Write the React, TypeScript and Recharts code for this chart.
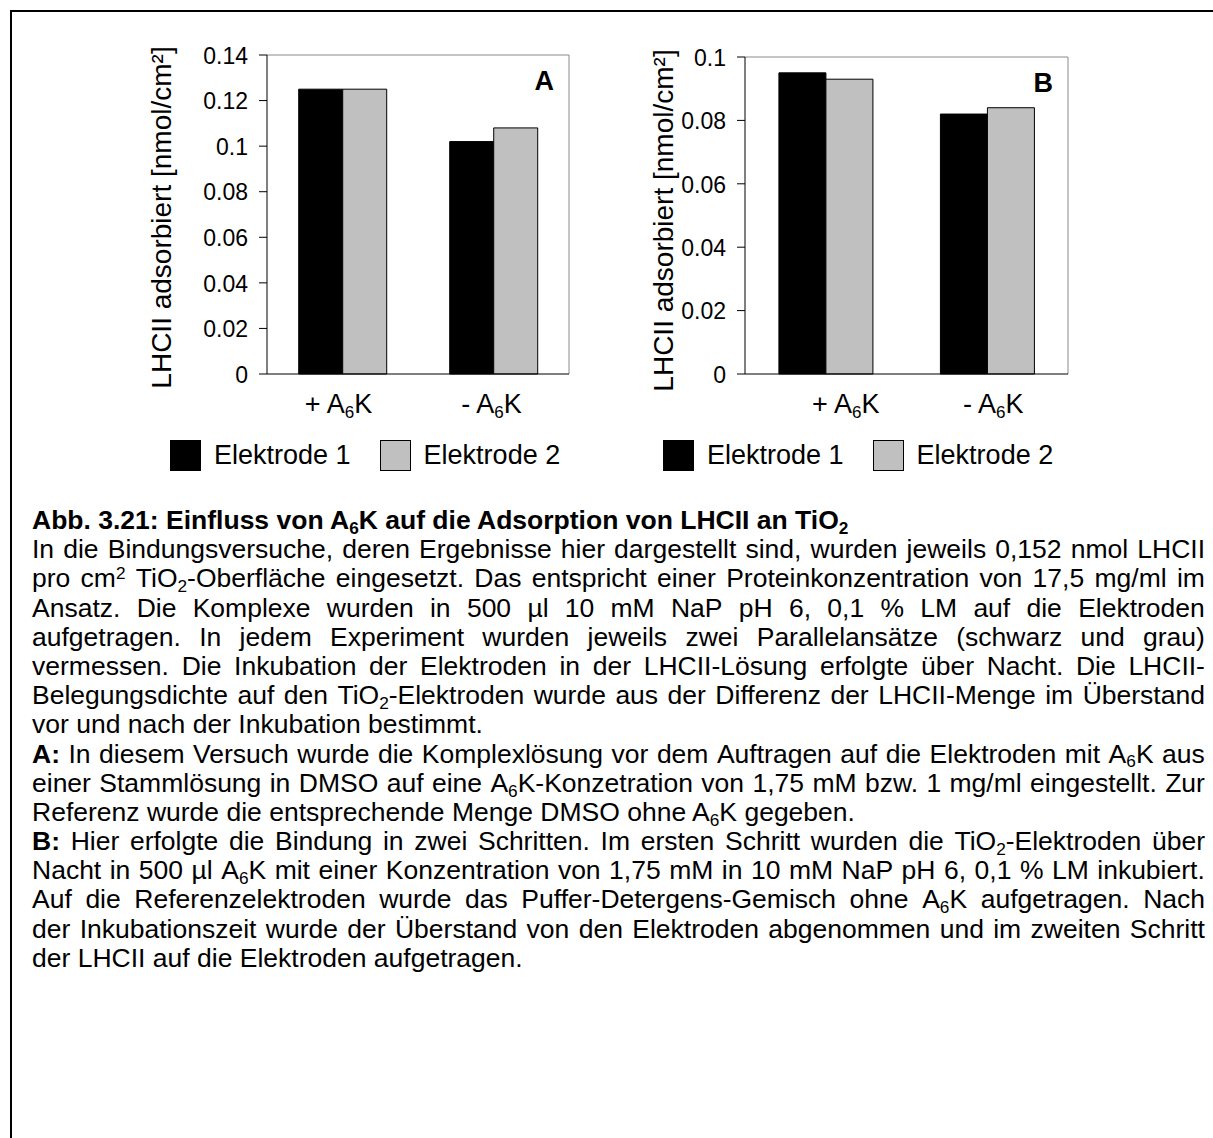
import React from 'react';
import { BarChart, Bar, XAxis, YAxis, ReferenceArea, Legend } from 'recharts';

// ---- data ----
const categories = ['+ A6K', '- A6K'];
const seriesNames = ['Elektrode 1', 'Elektrode 2'];
const seriesColors = ['#000000', '#c0c0c0'];

const electrode1A = [0.125, 0.102];
const electrode2A = [0.125, 0.108];
const electrode1B = [0.095, 0.082];
const electrode2B = [0.093, 0.084];

const ticksA = [0, 0.02, 0.04, 0.06, 0.08, 0.1, 0.12, 0.14];
const ticksB = [0, 0.02, 0.04, 0.06, 0.08, 0.1];
const edgeTicks = [0, 1, 2];

const yTitle = 'LHCII adsorbiert [nmol/cm²]';

type CaptionLine = { t: string; j: boolean; b?: boolean };
const captionLines: CaptionLine[] = [
  { t: 'Abb. 3.21: Einfluss von A_{6}K auf die Adsorption von LHCII an TiO_{2}', j: false, b: true },
  { t: 'In die Bindungsversuche, deren Ergebnisse hier dargestellt sind, wurden jeweils 0,152 nmol LHCII', j: true },
  { t: 'pro cm^{2} TiO_{2}-Oberfläche eingesetzt. Das entspricht einer Proteinkonzentration von 17,5 mg/ml im', j: true },
  { t: 'Ansatz. Die Komplexe wurden in 500 µl 10 mM NaP pH 6, 0,1 % LM auf die Elektroden', j: true },
  { t: 'aufgetragen. In jedem Experiment wurden jeweils zwei Parallelansätze (schwarz und grau)', j: true },
  { t: 'vermessen. Die Inkubation der Elektroden in der LHCII-Lösung erfolgte über Nacht. Die LHCII-', j: true },
  { t: 'Belegungsdichte auf den TiO_{2}-Elektroden wurde aus der Differenz der LHCII-Menge im Überstand', j: true },
  { t: 'vor und nach der Inkubation bestimmt.', j: false },
  { t: '**A:** In diesem Versuch wurde die Komplexlösung vor dem Auftragen auf die Elektroden mit A_{6}K aus', j: true },
  { t: 'einer Stammlösung in DMSO auf eine A_{6}K-Konzetration von 1,75 mM bzw. 1 mg/ml eingestellt. Zur', j: true },
  { t: 'Referenz wurde die entsprechende Menge DMSO ohne A_{6}K gegeben.', j: false },
  { t: '**B:** Hier erfolgte die Bindung in zwei Schritten. Im ersten Schritt wurden die TiO_{2}-Elektroden über', j: true },
  { t: 'Nacht in 500 µl A_{6}K mit einer Konzentration von 1,75 mM in 10 mM NaP pH 6, 0,1 % LM inkubiert.', j: true },
  { t: 'Auf die Referenzelektroden wurde das Puffer-Detergens-Gemisch ohne A_{6}K aufgetragen. Nach', j: true },
  { t: 'der Inkubationszeit wurde der Überstand von den Elektroden abgenommen und im zweiten Schritt', j: true },
  { t: 'der LHCII auf die Elektroden aufgetragen.', j: false },
];

// ---- styling ----
const FONT = "'Liberation Sans', Arial, Helvetica, sans-serif";

const buildTable = (e1: number[], e2: number[]) =>
  categories.map((cat, i) => ({ cat, e1: e1[i], e2: e2[i] }));

// y tick labels
const YTick = (p: any) => (
  <text x={p.x} y={p.y} dy="0.38em" textAnchor="end" fontSize={23} fontFamily={FONT} fill="#000">
    {String(p.payload.value)}
  </text>
);

// category labels with subscript digit (A6K -> A₆K)
const XTick = (p: any) => {
  const shift = (p.shifts && p.shifts[p.index]) || 0;
  const m = /^(.*A)(\d)(.*)$/.exec(String(p.payload.value));
  const x = p.x + shift;
  const y = p.y + 39;
  if (!m) {
    return (
      <text x={x} y={y} textAnchor="middle" fontSize={27} fontFamily={FONT} fill="#000">
        {p.payload.value}
      </text>
    );
  }
  return (
    <text x={x} y={y} textAnchor="middle" fontSize={27} fontFamily={FONT} fill="#000">
      <tspan>{m[1]}</tspan>
      <tspan fontSize={17} dy={5}>{m[2]}</tspan>
      <tspan dy={-5}>{m[3]}</tspan>
    </text>
  );
};

// top and right border of the plot area
const FrameShape = (p: any) => (
  <path
    d={`M${p.x},${p.y}H${p.x + p.width}V${p.y + p.height}`}
    stroke="#8a8a8a"
    strokeWidth={1}
    fill="none"
  />
);

type PanelProps = {
  left: number;
  top: number;
  width: number;
  height: number;
  marginTop: number;
  yAxisWidth: number;
  yMax: number;
  ticks: number[];
  e1: number[];
  e2: number[];
  letter: string;
  titleX: number;
  titleDy: number;
  xShifts: number[];
  legendPad: number;
};

const LegendBox = ({ pad }: { pad: number }) => (
  <div
    style={{
      display: 'flex',
      alignItems: 'center',
      height: 40,
      paddingLeft: pad,
      fontFamily: FONT,
      fontSize: 27,
      color: '#000',
      whiteSpace: 'nowrap',
    }}
  >
    {seriesNames.map((name, i) => (
      <div key={name} style={{ display: 'flex', alignItems: 'center', marginRight: 29 }}>
        <div
          style={{
            width: 31,
            height: 31,
            boxSizing: 'border-box',
            background: seriesColors[i],
            border: '1.5px solid #000',
            marginRight: 13,
          }}
        />
        <span>{name}</span>
      </div>
    ))}
  </div>
);

const Panel = (props: PanelProps) => {
  const data = buildTable(props.e1, props.e2);
  return (
    <div style={{ position: 'absolute', left: props.left, top: props.top }}>
      <BarChart
        width={props.width}
        height={props.height}
        data={data}
        margin={{ top: props.marginTop, right: 11, left: 0, bottom: 0 }}
        barGap={0}
        barCategoryGap="21%"
      >
        <XAxis
          xAxisId="edges"
          type="number"
          domain={[0, 2]}
          ticks={edgeTicks}
          interval={0}
          height={0}
          axisLine={false}
          tick={false}
          tickSize={8}
          tickLine={{ stroke: '#000', strokeWidth: 1 }}
        />
        <XAxis
          xAxisId="cat"
          dataKey="cat"
          type="category"
          height={61}
          interval={0}
          tickSize={0}
          tickMargin={0}
          tickLine={false}
          axisLine={{ stroke: '#000', strokeWidth: 1 }}
          tick={(tp: any) => <XTick {...tp} shifts={props.xShifts} />}
        />
        <YAxis
          type="number"
          domain={[0, props.yMax]}
          ticks={props.ticks}
          interval={0}
          width={props.yAxisWidth}
          tickSize={8}
          tickMargin={11}
          axisLine={{ stroke: '#000', strokeWidth: 1 }}
          tickLine={{ stroke: '#000', strokeWidth: 1 }}
          tick={YTick}
          label={(lp: any) => {
            const vb = lp.viewBox || {};
            const cx = vb.x + props.titleX;
            const cy = vb.y + vb.height / 2 + props.titleDy;
            return (
              <text
                x={cx}
                y={cy}
                transform={`rotate(-90 ${cx} ${cy})`}
                textAnchor="middle"
                fontSize={28}
                fontFamily={FONT}
                fill="#000"
              >
                {yTitle}
              </text>
            );
          }}
        />
        <ReferenceArea
          xAxisId="cat"
          y1={0}
          y2={props.yMax}
          ifOverflow="visible"
          shape={FrameShape}
          label={(lp: any) => {
            const vb = lp.viewBox || {};
            return (
              <text
                x={vb.x + vb.width - 15}
                y={vb.y + 35}
                textAnchor="end"
                fontSize={27}
                fontWeight="bold"
                fontFamily={FONT}
                fill="#000"
              >
                {props.letter}
              </text>
            );
          }}
        />
        <Bar xAxisId="cat" dataKey="e1" name={seriesNames[0]} fill={seriesColors[0]} stroke="#000" strokeWidth={1} isAnimationActive={false} />
        <Bar xAxisId="cat" dataKey="e2" name={seriesNames[1]} fill={seriesColors[1]} stroke="#000" strokeWidth={1} isAnimationActive={false} />
        <Legend
          verticalAlign="bottom"
          wrapperStyle={{ left: 0, width: props.width, bottom: 0 }}
          content={() => <LegendBox pad={props.legendPad} />}
        />
      </BarChart>
    </div>
  );
};

// ---- caption rendering ----
const renderWord = (word: string, key: number) => {
  const parts: React.ReactNode[] = [];
  const re = /\*\*(.+?)\*\*|_\{(.+?)\}|\^\{(.+?)\}|([^*_^]+)/g;
  let m: RegExpExecArray | null;
  let k = 0;
  while ((m = re.exec(word)) !== null) {
    if (m[1] !== undefined) {
      parts.push(<b key={k++}>{m[1]}</b>);
    } else if (m[2] !== undefined) {
      parts.push(
        <span key={k++} style={{ fontSize: '0.65em', position: 'relative', top: '0.28em', lineHeight: 0 }}>
          {m[2]}
        </span>
      );
    } else if (m[3] !== undefined) {
      parts.push(
        <span key={k++} style={{ fontSize: '0.65em', position: 'relative', top: '-0.5em', lineHeight: 0 }}>
          {m[3]}
        </span>
      );
    } else if (m[4] !== undefined) {
      parts.push(<React.Fragment key={k++}>{m[4]}</React.Fragment>);
    }
  }
  return <span key={key}>{parts}</span>;
};

const LINE_H = 29.2;

const Caption = () => (
  <div
    style={{
      position: 'absolute',
      left: 32,
      top: 506,
      width: 1173,
      fontFamily: FONT,
      fontSize: 26.5,
      color: '#000',
    }}
  >
    {captionLines.map((line, i) => {
      const words = line.t.split(' ');
      const base: React.CSSProperties = {
        height: LINE_H,
        lineHeight: `${LINE_H}px`,
        whiteSpace: 'pre',
        fontWeight: line.b ? 'bold' : 'normal',
      };
      if (line.j) {
        return (
          <div key={i} style={{ ...base, display: 'flex', justifyContent: 'space-between' }}>
            {words.map((w, wi) => renderWord(w, wi))}
          </div>
        );
      }
      return (
        <div key={i} style={base}>
          {words.map((w, wi) => (
            <React.Fragment key={wi}>
              {wi > 0 ? ' ' : ''}
              {renderWord(w, wi)}
            </React.Fragment>
          ))}
        </div>
      );
    })}
  </div>
);

export default function App() {
  return (
    <div style={{ position: 'absolute', left: 0, top: 0, width: 1213, height: 1138, background: '#fff', overflow: 'hidden' }}>
      <div
        style={{
          position: 'absolute',
          left: 10,
          top: 10,
          width: 1213,
          height: 1138,
          borderTop: '2px solid #000',
          borderLeft: '2px solid #000',
        }}
      />
      <Panel
        left={140}
        top={30}
        width={440}
        height={445}
        marginTop={25}
        yAxisWidth={127}
        yMax={0.14}
        ticks={ticksA}
        e1={electrode1A}
        e2={electrode2A}
        letter="A"
        titleX={31}
        titleDy={3}
        xShifts={[-4, -2]}
        legendPad={30}
      />
      <Panel
        left={640}
        top={30}
        width={439}
        height={445}
        marginTop={27}
        yAxisWidth={105}
        yMax={0.1}
        ticks={ticksB}
        e1={electrode1B}
        e2={electrode2B}
        letter="B"
        titleX={33}
        titleDy={5}
        xShifts={[20, 6]}
        legendPad={23}
      />
      <Caption />
    </div>
  );
}
